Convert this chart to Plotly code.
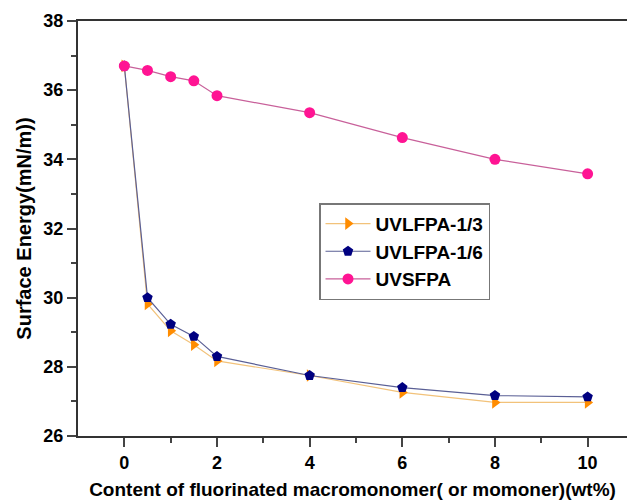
import plotly.graph_objects as go

x = [0, 0.5, 1, 1.5, 2, 4, 6, 8, 10]
uvlfpa_13 = [36.7, 29.82, 29.04, 28.64, 28.17, 27.75, 27.26, 26.97, 26.97]
uvlfpa_16 = [36.7, 30.0, 29.23, 28.88, 28.30, 27.75, 27.40, 27.17, 27.13]
uvsfpa = [36.7, 36.57, 36.39, 36.27, 35.84, 35.35, 34.63, 34.0, 33.58]

x_ticks = [0, 2, 4, 6, 8, 10]
y_ticks = [26, 28, 30, 32, 34, 36, 38]

FAM = "Liberation Sans, Arial, sans-serif"

fig = go.Figure()
fig.add_trace(go.Scatter(x=x, y=uvlfpa_13, name="UVLFPA-1/3", mode="lines+markers",
                         line=dict(color="#F2C27A", width=1.2),
                         marker=dict(symbol="triangle-right", size=11, color="#FF8C00")))
fig.add_trace(go.Scatter(x=x, y=uvlfpa_16, name="UVLFPA-1/6", mode="lines+markers",
                         line=dict(color="#5A5F95", width=1.2),
                         marker=dict(symbol="pentagon", size=11, color="#000080")))
fig.add_trace(go.Scatter(x=x, y=uvsfpa, name="UVSFPA", mode="lines+markers",
                         line=dict(color="#C8609A", width=1.2),
                         marker=dict(symbol="circle", size=11, color="#FF1493")))

tick_font = dict(family=FAM, size=18, color="black", weight="bold")

fig.update_layout(
    width=627, height=502,
    margin=dict(l=78, r=0, t=21, b=66),
    plot_bgcolor="white", paper_bgcolor="white",
    showlegend=True,
    legend=dict(x=0.439, y=0.561, xanchor="left", yanchor="top",
                bordercolor="#777777", borderwidth=1.5, bgcolor="white",
                font=dict(family=FAM, size=19, color="black", weight="bold"),
                tracegroupgap=0, itemwidth=45),
    xaxis=dict(range=[-1, 10.85], tickvals=x_ticks, ticks="outside", ticklen=9, tickwidth=1.5,
               showline=True, linecolor="#333333", linewidth=2, mirror=True,
               showgrid=False, zeroline=False, tickfont=tick_font,
               minor=dict(tickvals=[1, 3, 5, 7, 9], ticks="outside", ticklen=5, tickwidth=1.5),
               title=dict(text="Content of fluorinated macromonomer( or momoner)(wt%)",
                          font=dict(family=FAM, size=19, color="black", weight="bold"),
                          standoff=11)),
    yaxis=dict(range=[26, 38], tickvals=y_ticks, ticks="outside", ticklen=9, tickwidth=1.5,
               showline=True, linecolor="#333333", linewidth=2,
               showgrid=False, zeroline=False, tickfont=tick_font,
               minor=dict(tickvals=[27, 29, 31, 33, 35, 37], ticks="outside", ticklen=5, tickwidth=1.5),
               title=dict(text="Surface Energy(mN/m))",
                          font=dict(family=FAM, size=20, color="black", weight="bold"),
                          standoff=6)),
)

fig.write_html("out.html", config={"displayModeBar": False},
               post_script="document.body.style.margin='0';")
